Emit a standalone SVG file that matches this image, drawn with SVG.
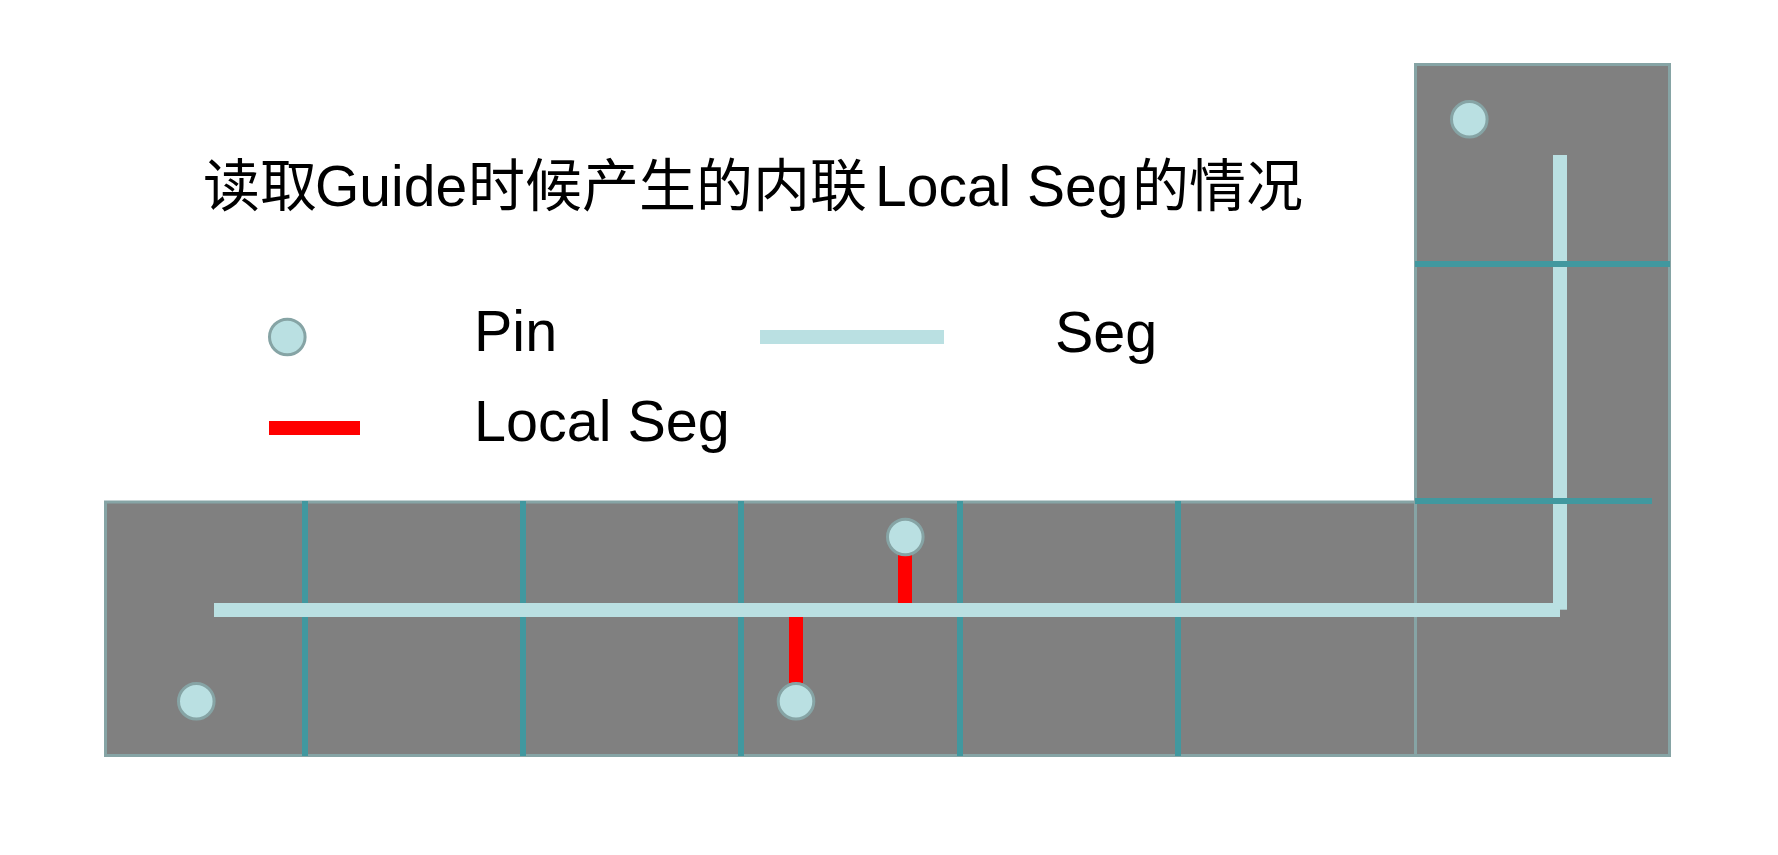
<svg xmlns="http://www.w3.org/2000/svg" width="1778" height="855" viewBox="0 0 1778 855">
  <style>
    .region { fill: #808080; stroke: #86a4a5; stroke-width: 3; }
    .divider { fill: #41989f; }
    .seg { fill: #bae0e2; }
    .local { fill: #ff0000; }
    .pin { fill: #bae0e2; stroke: #86a4a5; stroke-width: 3; }
    .label { font-family: "Liberation Sans", Arial, sans-serif; font-size: 57.5px; fill: #000; }
    .title { font-family: "Liberation Sans", Arial, sans-serif; font-size: 57px; fill: #000; }
    .cjk { font-family: "Noto Sans CJK SC", sans-serif; font-size: 57px; }
  </style>

  <rect width="1778" height="855" fill="#ffffff"/>

  <!-- title -->
  <text class="title" y="206">
    <tspan class="cjk" x="203">读取</tspan><tspan x="315">Guide</tspan><tspan class="cjk" x="468">时候产生的内联</tspan><tspan x="875">Local Seg</tspan><tspan class="cjk" x="1132">的情况</tspan>
  </text>

  <!-- legend -->
  <g id="legend">
    <circle class="pin" cx="287.3" cy="337" r="17.8"/>
    <text class="label" x="474" y="351">Pin</text>
    <rect class="seg" x="760" y="330" width="184" height="14"/>
    <text class="label" x="1055" y="352">Seg</text>
    <rect class="local" x="269" y="421" width="91" height="14"/>
    <text class="label" x="474" y="441">Local Seg</text>
  </g>

  <!-- guide regions -->
  <g id="guide-row">
    <rect class="region" x="105.5" y="502" width="1310" height="253.5"/>
  </g>
  <g id="guide-column">
    <rect class="region" x="1415.5" y="64.5" width="254" height="691"/>
  </g>

  <!-- gcell boundaries along the row -->
  <g id="gcell-lines">
    <rect class="divider" x="302" y="501" width="6" height="255"/>
    <rect class="divider" x="520" y="501" width="6" height="255"/>
    <rect class="divider" x="738" y="501" width="6" height="255"/>
    <rect class="divider" x="957" y="501" width="6" height="255"/>
    <rect class="divider" x="1175" y="501" width="6" height="255"/>
  </g>

  <!-- routed segments -->
  <g id="connectors">
    <rect class="seg" x="214" y="603" width="1346" height="14"/>
    <rect class="seg" x="1553" y="155" width="14" height="454.7"/>
    <rect class="local" x="789" y="617" width="14" height="66"/>
    <rect class="local" x="898" y="555" width="14" height="48"/>
  </g>

  <!-- gcell boundaries along the column -->
  <g id="gcell-lines-column">
    <rect class="divider" x="1415" y="261" width="255" height="6"/>
    <rect class="divider" x="1415" y="498" width="237" height="6"/>
  </g>

  <!-- pins -->
  <g id="pin-1"><circle class="pin" cx="196.3" cy="701.3" r="17.8"/></g>
  <g id="pin-2"><circle class="pin" cx="796" cy="701.3" r="17.8"/></g>
  <g id="pin-3"><circle class="pin" cx="905.3" cy="537" r="17.8"/></g>
  <g id="pin-4"><circle class="pin" cx="1469.3" cy="119.3" r="17.8"/></g>
</svg>
